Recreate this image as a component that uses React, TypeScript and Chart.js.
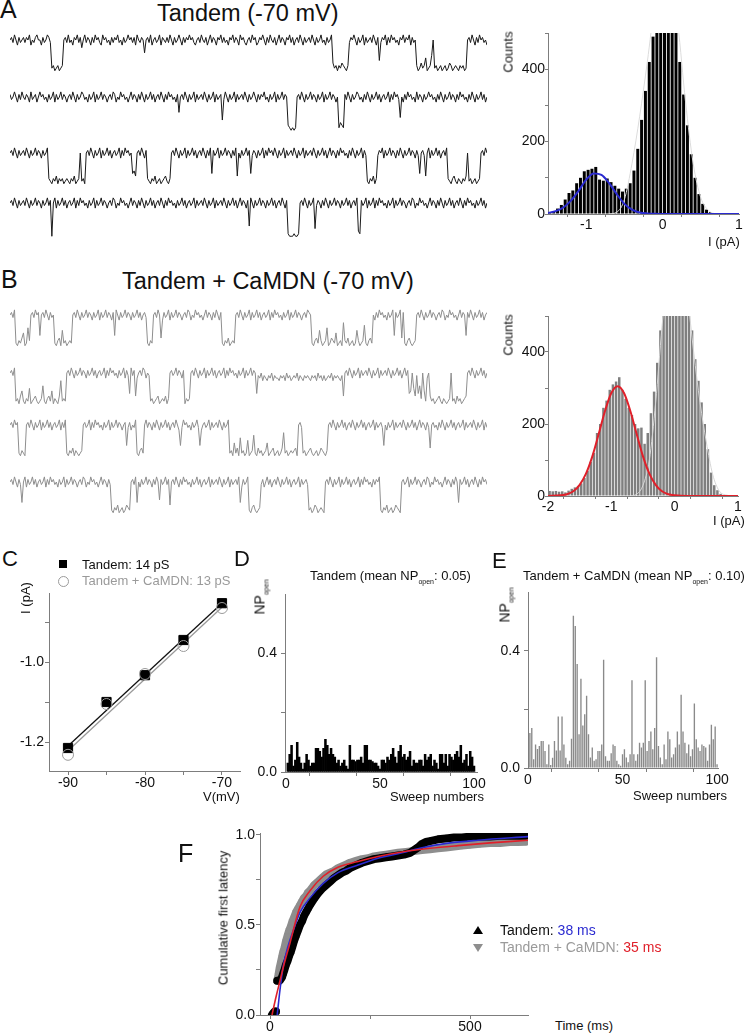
import React, { useEffect, useRef } from "react";
import { Chart, registerables } from "chart.js";

Chart.register(...registerables);

const FONT = "'Liberation Sans', Arial, Helvetica, sans-serif";

// ---------------- DATA ----------------
// Single-channel traces: one hex digit per sample, current (pA) = TRACE_ZERO_PA - digit * TRACE_STEP_PA
const TRACE_ZERO_PA = 0.16;
const TRACE_STEP_PA = 0.08;

const TRACE_A1 = ["2130241321","3120423102","24132013dc","edcedc2130","3241203152","0312413021","3402132413","1203241320","2131402312","7213042132","0412313024","1320241312","0213421302","3142031241","2031324120","3124021342","1302143120","2413023142","0312412031","4213024132","1302413203","241320bdce","cdbcdec312","0241320413","2130241a31","2041302132","4120312041","32cedbdc9e","dc82dcedce","dcedbcedcd","ecdced2130","2413021324"].join("");
const TRACE_A2 = ["1320241302","3124032142","0213241320","4132031242","1302413201","3241320413","2031242130","1423021324","2031241302","4132031421","3024130213","2418213024","1320413213","0241320413","21b3024132","0413213024","1320241312","0324132041","320312defe","fe21302413","2031241320","4132031242","ecde130241","3201324130","2413203142","1320413021","3a24130213","2403124132","0213241302","4132031241","3021324130","2413203142"].join("");
const TRACE_A3 = ["2130241321","3024132031","241320cdec","dbecdcedcd","ecdbedc2dc","e213024132","0413203142","1320413021","32a9b21302","41cdecdbed","cedcbdec21","3024132041","3203142130","24130a1320","4132031241","30b2413203","1a31241320","4130213024","1320413213","0241320413","2130241320","3142031241","3021324130","241320413d","ecdbec3120","4132031241","3024132031","2413a213b2","0413203142","130cdecbde","cdecdb2dce","dcedc21302"].join("");
const TRACE_A4 = ["2130241321","3024132031","24132031f2","0413203142","1320413021","3241320413","2031242130","1423021324","2031241302","4132031421","3024130213","2413203142","1320413213","0241320413","2130241320","3142031241","b024132031","2413203142","130241efff","effe213024","1320c31241","3024132031","2413203142","130de13204","1320413021","3241320413","2031242130","1423021324","2031241302","4132031421","3024130213","2413203142"].join("");

const TRACE_B1 = ["2130decdb9","ed7c213021","a213024132","decbe8dced","cd21302413","2031241320","4132031241","a024132031","2413203142","13decd2130","2b41320413","2031242130","1423021324","2031241302","41decdbedc","d213024132","0413203142","1320413021","3241320413","2031242130","12decbd8ce","dc7edbcd9e","dce5cdbedc","ed8cedc6de","cbd2413021","3241320a13","20b1decbde","dc21302413","2031242130","1423021324","20312a1302","4132031421"].join("");
const TRACE_B2 = ["2130dceb9d","ecd8edcbde","dc7decbd9e","cdeb5dcd21","3024132031","2413203142","1320413021","3241320413","a031b42130","1423dcedcb","edcdbec213","2031241ecd","c213024132","0413203142","1320413021","3241320413","20312a3425","3453425344","5343524354","3425345343","4534352435","3543425343","453b213024","1320413213","0241320413","2130241320","3142031a92","8b3a7c29d4","2bdcedcbde","cdedc2dceb","dcedcb2130","2413203142"].join("");
const TRACE_B3 = ["213021decd","e213024132","0413203142","13204130de","cdbecdedc2","1320413021","3241320413","20312421a3","14230decbd","2031241302","4132031421","3024a30213","2413203a42","1320413213","0241320dce","9dbe7dced8","edc6debdce","dc9edcbedc","edb5dcedcd","cbe213dced","cbdedcedbc","dec2130241","3203142130","2413203142","1320413213","a241320413","2130241320","3142031241","3b21324130","2413203142","1320413213","0241320413"].join("");
const TRACE_B4 = ["21302413a2","0413203142","1320413021","3241320413","2031242130","1423021324","20312413de","cdbedcedbc","d2130a2413","2031241302","9132031b21","3024130213","2413203142","1320413213","0241320413","2130a41320","decbdedc31","4203142130","2413203142","1320413213","dcedbcedcd","e213024132","0413203142","1320413021","32413120de","cdbedcedbc","de21320413","2031242130","1423021324","2031241302","a132031421","3024130213"].join("");

// Amplitude histograms (bin width 0.05 pA)
const HIST_BIN_WIDTH = 0.05;
const HIST_A_BIN_START = -1.5;
const HIST_A_COUNTS = [3,8,15,25,40,58,65,85,100,118,122,125,130,95,92,98,88,78,70,62,70,85,120,180,260,340,420,490,560,640,660,640,600,540,420,330,245,165,100,55,28,12,5,2,1,0,0,0,0,0];
const HIST_A_OPEN_FIT_X = [-1.5,-1.4,-1.3,-1.2,-1.1,-1.0,-0.9,-0.8,-0.7,-0.6,-0.5,-0.4,-0.3,-0.2,-0.1,0,0.5,1.0];
const HIST_A_OPEN_FIT_Y = [3,8,18,37,64,95,112,108,85,55,28,12,4,1.5,0.5,0,0,0];
const HIST_A_CLOSED_FIT_X = [-0.7,-0.6,-0.5,-0.4,-0.3,-0.2,-0.1,0,0.1,0.2,0.3,0.4,0.5,0.6,0.7,1.0];
const HIST_A_CLOSED_FIT_Y = [0,5,40,140,270,420,580,660,630,520,310,140,45,10,1,0];

const HIST_B_BIN_START = -2.0;
const HIST_B_COUNTS = [14,13,14,12,13,10,15,20,24,28,35,50,70,95,120,175,200,245,265,295,310,318,330,295,270,245,225,200,188,190,145,175,230,290,370,460,540,620,690,730,740,720,680,610,530,460,380,320,260,200,130,65,30,16,6,2,0,0,0,0];
const HIST_B_OPEN_FIT_X = [-2,-1.8,-1.7,-1.6,-1.5,-1.4,-1.3,-1.2,-1.1,-1.0,-0.9,-0.8,-0.7,-0.6,-0.5,-0.4,-0.3,-0.2,-0.1,0,0.2,0.5,1.0];
const HIST_B_OPEN_FIT_Y = [0,2,5,13,31,62,110,172,236,286,305,286,236,172,110,62,31,13,5,2,0,0,0];
const HIST_B_CLOSED_FIT_X = [-0.7,-0.6,-0.5,-0.4,-0.3,-0.2,-0.1,0,0.1,0.2,0.3,0.4,0.5,0.6,0.7,0.8,1.0];
const HIST_B_CLOSED_FIT_Y = [0,5,30,100,260,470,650,740,700,560,400,260,150,60,15,3,0];

// I-V relation (panel C)
const IV_VOLTAGES = [-90, -85, -80, -75, -70];
const IV_TANDEM = [-1.215, -1.100, -1.033, -0.945, -0.853];
const IV_CAMDN = [-1.232, -1.105, -1.030, -0.960, -0.865];
const IV_FIT_V = [-90, -70];
const IV_TANDEM_FIT = [-1.210, -0.853];
const IV_CAMDN_FIT = [-1.222, -0.863];

// NPopen per sweep (panels D, E)
const SWEEPS = Array.from({ length: 100 }, (_, i) => i + 1);
const NP_TANDEM = [0.03,0.06,0.09,0.02,0.04,0.10,0.05,0.03,0.01,0.03,
  0.06,0.04,0.02,0.03,0.03,0.08,0.08,0.07,0.05,0.08,
  0.11,0.09,0.06,0.08,0.06,0.05,0.03,0.04,0.02,0.03,
  0.04,0.02,0.01,0.09,0.04,0.04,0.035,0.04,0.04,0.05,
  0.03,0.09,0.09,0.04,0.04,0.035,0.03,0.03,0.02,0.01,
  0.04,0.04,0.03,0.05,0.04,0.06,0.08,0.05,0.03,0.07,
  0.09,0.05,0.06,0.04,0.05,0.07,0.02,0.04,0.03,0.03,
  0.04,0.04,0.02,0.06,0.04,0.05,0.06,0.02,0.04,0.03,
  0.01,0.06,0.06,0.03,0.06,0.02,0.06,0.05,0.04,0.06,
  0.07,0.05,0.09,0.03,0.04,0.06,0.02,0.07,0.05,0.02];
const NP_CAMDN = [0.12,0.137,0.03,0.08,0.065,0.075,0.092,0.092,0.058,0.013,
  0.08,0.01,0.035,0.092,0.06,0.176,0.06,0.176,0.08,0.035,
  0.013,0.025,0.10,0.52,0.485,0.355,0.115,0.305,0.145,0.184,
  0.247,0.115,0.036,0.07,0.025,0.03,0.058,0.058,0.08,0.37,
  0.04,0.025,0.025,0.05,0.08,0.075,0.025,0.013,0.008,0.047,
  0.064,0.036,0.02,0.047,0.30,0.047,0.025,0.047,0.086,0.07,
  0.086,0.30,0.058,0.092,0.125,0.064,0.137,0.378,0.075,0.036,
  0.013,0.08,0.03,0.125,0.098,0.036,0.047,0.07,0.125,0.08,
  0.25,0.125,0.086,0.05,0.08,0.04,0.064,0.22,0.098,0.07,
  0.058,0.08,0.075,0.07,0.025,0.08,0.148,0.098,0.142,0.013];

// Cumulative first latency (panel F)
const LAT_TANDEM_T = [5,8,12,15,18,21,24,27,30,33,36,40,44,48,52,56,60,65,70,75,80,85,90,95,100,110,120,130,140,150,160,170,180,190,200,215,230,245,260,275,290,305,320,335,350,360,370,380,390,400,420,440,460,480,500,525,550,575,600,620,640];
const LAT_TANDEM_V = [0.0,0.01,0.02,0.02,0.19,0.19,0.19,0.20,0.21,0.23,0.25,0.28,0.30,0.33,0.35,0.38,0.41,0.44,0.47,0.50,0.52,0.55,0.57,0.59,0.61,0.645,0.675,0.70,0.72,0.74,0.76,0.775,0.79,0.80,0.815,0.83,0.845,0.855,0.865,0.87,0.875,0.88,0.885,0.89,0.90,0.915,0.93,0.95,0.96,0.965,0.975,0.98,0.985,0.985,0.99,0.99,0.99,0.995,0.995,0.995,0.995];
const LAT_CAMDN_T = [5,8,12,15,18,21,24,27,30,33,36,40,44,48,52,56,60,65,70,75,80,85,90,95,100,110,120,130,140,150,160,170,180,190,200,215,230,245,260,275,290,305,320,340,360,380,400,420,440,460,480,500,525,550,575,600,620,640];
const LAT_CAMDN_V = [0.0,0.01,0.02,0.02,0.19,0.22,0.26,0.29,0.32,0.35,0.37,0.41,0.44,0.47,0.49,0.52,0.54,0.57,0.59,0.61,0.63,0.65,0.66,0.68,0.69,0.72,0.74,0.76,0.78,0.79,0.80,0.815,0.825,0.835,0.845,0.855,0.865,0.87,0.88,0.885,0.89,0.895,0.90,0.905,0.91,0.915,0.92,0.925,0.93,0.935,0.94,0.945,0.95,0.955,0.955,0.96,0.96,0.962];
const FIT_TANDEM_T = [18,25,33,45,60,75,100,133,170,217,270,330,383,450,520,645];
const FIT_TANDEM_V = [0.0,0.14,0.27,0.38,0.48,0.57,0.65,0.73,0.79,0.83,0.87,0.90,0.93,0.955,0.97,0.99];
const FIT_CAMDN_T = [5,15,25,35,50,75,100,133,170,217,270,330,400,470,550,645];
const FIT_CAMDN_V = [0.0,0.10,0.19,0.28,0.40,0.60,0.69,0.77,0.82,0.85,0.88,0.905,0.925,0.94,0.955,0.97];

// ---------------- STYLE / LAYOUT ----------------
const AXIS_COLOR = "#7d7d7d";
const TICK_COLOR = "#111";
const GRAY = "#8e8e8e";
const BLUE = "#2a2ad0";
const RED = "#e0202a";
const PX_PER_PA = 32;

type Area = { l: number; t: number; r: number; b: number };
type Frame = { area: Area; yW: number; xH: number; padT: number; padR: number };
type Box = { left: number; top: number; width: number; height: number };

function frameBox(f: Frame): Box {
  return {
    left: f.area.l - f.yW,
    top: f.area.t - f.padT,
    width: f.area.r - f.area.l + f.yW + f.padR,
    height: f.area.b - f.area.t + f.padT + f.xH,
  };
}

const zip = (xs: number[], ys: number[]) => xs.map((x, i) => ({ x, y: ys[i] }));
const decode = (s: string) => s.split("").map((ch) => TRACE_ZERO_PA - parseInt(ch, 16) * TRACE_STEP_PA);
const lab = (shown: number[], digits: number) => (v: number) =>
  shown.some((s) => Math.abs(s - v) < 1e-9) ? Number(v).toFixed(digits) : "";

function baseOptions(padT: number, padR: number) {
  return {
    responsive: false,
    maintainAspectRatio: false,
    animation: false,
    events: [],
    layout: { padding: { top: padT, right: padR, left: 0, bottom: 0 } },
    plugins: { legend: { display: false }, tooltip: { enabled: false } },
  };
}

function axisOpts(o: {
  min: number; max: number; ticks: number[]; labels: (v: number) => string;
  size: number; isX: boolean; tickLen?: number; pad?: number;
}) {
  return {
    type: "linear",
    min: o.min,
    max: o.max,
    offset: false,
    afterBuildTicks: (s: any) => { s.ticks = o.ticks.map((v) => ({ value: v })); },
    afterFit: (s: any) => { if (o.isX) s.height = o.size; else s.width = o.size; },
    grid: { display: true, drawOnChartArea: false, drawTicks: true, tickLength: o.tickLen ?? 4, color: AXIS_COLOR, lineWidth: 1 },
    border: { display: true, color: AXIS_COLOR, width: 1 },
    ticks: {
      autoSkip: false, maxRotation: 0, minRotation: 0, padding: o.pad ?? 1,
      color: TICK_COLOR, font: { family: FONT, size: 14 },
      callback: (v: any) => o.labels(Number(v)),
    },
  };
}

function ChartCanvas({ box, make }: { box: Box; make: () => any }) {
  const ref = useRef<HTMLCanvasElement>(null);
  useEffect(() => {
    const chart = new Chart(ref.current as HTMLCanvasElement, make());
    return () => chart.destroy();
  }, []);
  return (
    <canvas
      ref={ref}
      width={box.width}
      height={box.height}
      style={{ position: "absolute", left: box.left, top: box.top, width: box.width, height: box.height }}
    />
  );
}

// ---------- chart builders ----------
function traceMake(code: string, color: string) {
  return () => {
    const samples = decode(code);
    return {
      type: "line",
      data: {
        datasets: [{
          data: samples.map((y, i) => ({ x: i, y })),
          borderColor: color, borderWidth: 1, pointRadius: 0, tension: 0, fill: false,
        }],
      },
      options: {
        ...baseOptions(0, 0),
        scales: {
          x: { type: "linear", display: false, min: 0, max: samples.length - 1 },
          y: { type: "linear", display: false, min: -44 / PX_PER_PA, max: 18 / PX_PER_PA },
        },
      },
    };
  };
}

function histMake(f: Frame, p: {
  binStart: number; counts: number[]; barColor: string;
  openX: number[]; openY: number[]; openColor: string;
  closedX: number[]; closedY: number[]; closedColor: string;
  xMin: number; xMax: number; xTicks: number[]; xLabels: number[];
}) {
  return () => ({
    type: "bar",
    data: {
      datasets: [
        {
          type: "line", data: zip(p.openX, p.openY), borderColor: p.openColor, borderWidth: 2,
          pointRadius: 0, cubicInterpolationMode: "monotone", order: 1,
        },
        {
          type: "line", data: zip(p.closedX, p.closedY), borderColor: p.closedColor, borderWidth: 1,
          pointRadius: 0, cubicInterpolationMode: "monotone", order: 2,
        },
        {
          type: "bar",
          data: p.counts.map((c, i) => ({ x: p.binStart + (i + 0.5) * HIST_BIN_WIDTH, y: c })),
          backgroundColor: p.barColor, borderWidth: 0, barPercentage: 0.78, categoryPercentage: 1, order: 3,
        },
      ],
    },
    options: {
      ...baseOptions(f.padT, f.padR),
      scales: {
        x: axisOpts({ min: p.xMin, max: p.xMax, ticks: p.xTicks, labels: lab(p.xLabels, 0), size: f.xH, isX: true, tickLen: 3, pad: 0 }),
        y: axisOpts({ min: 0, max: 500, ticks: [0, 100, 200, 300, 400, 500], labels: lab([0, 200, 400], 0), size: f.yW, isX: false, tickLen: 3, pad: 0 }),
      },
    },
  });
}

const FRAME_HIST_A: Frame = { area: { l: 548, t: 33, r: 739, b: 214 }, yW: 48, xH: 22, padT: 10, padR: 6 };
const FRAME_HIST_B: Frame = { area: { l: 548, t: 316, r: 738, b: 496 }, yW: 48, xH: 22, padT: 10, padR: 7 };
const FRAME_C: Frame = { area: { l: 49, t: 593, r: 240, b: 771 }, yW: 45, xH: 22, padT: 10, padR: 14 };
const FRAME_D: Frame = { area: { l: 285, t: 592, r: 477, b: 772 }, yW: 40, xH: 22, padT: 10, padR: 14 };
const FRAME_E: Frame = { area: { l: 528, t: 590, r: 718, b: 768 }, yW: 40, xH: 22, padT: 10, padR: 12 };
const FRAME_F: Frame = { area: { l: 260, t: 833, r: 528, b: 1015 }, yW: 40, xH: 22, padT: 10, padR: 14 };

const makeC = () => ({
  type: "scatter",
  data: {
    datasets: [
      { data: zip(IV_FIT_V, IV_TANDEM_FIT), showLine: true, borderColor: "#111", borderWidth: 1.3, pointRadius: 0, order: 4 },
      { data: zip(IV_FIT_V, IV_CAMDN_FIT), showLine: true, borderColor: "#9a9a9a", borderWidth: 1.3, pointRadius: 0, order: 3 },
      { data: zip(IV_VOLTAGES, IV_TANDEM), pointStyle: "rect", pointRadius: 6.5, backgroundColor: "#000", borderColor: "#000", order: 2 },
      { data: zip(IV_VOLTAGES, IV_CAMDN), pointStyle: "circle", pointRadius: 5.5, backgroundColor: "rgba(255,255,255,0)", borderColor: "#9a9a9a", borderWidth: 1, order: 1 },
    ],
  },
  options: {
    ...baseOptions(FRAME_C.padT, FRAME_C.padR),
    scales: {
      x: axisOpts({ min: -92.47, max: -67.66, ticks: [-90, -85, -80, -75, -70], labels: lab([-90, -80, -70], 0), size: FRAME_C.xH, isX: true, pad: 0 }),
      y: axisOpts({ min: -1.2725, max: -0.8275, ticks: [-1.2, -1.1, -1.0, -0.9], labels: lab([-1.2, -1.0], 1), size: FRAME_C.yW, isX: false, pad: 1 }),
    },
  },
});

function npMake(f: Frame, values: number[], color: string, barPct: number, xMin: number, xMax: number) {
  return () => ({
    type: "bar",
    data: {
      datasets: [{
        data: zip(SWEEPS, values), backgroundColor: color, borderWidth: 0,
        barPercentage: barPct, categoryPercentage: 1,
      }],
    },
    options: {
      ...baseOptions(f.padT, f.padR),
      scales: {
        x: axisOpts({ min: xMin, max: xMax, ticks: [0, 25, 50, 75, 100], labels: lab([0, 50, 100], 0), size: f.xH, isX: true, pad: 0 }),
        y: axisOpts({ min: 0, max: 0.6, ticks: [0, 0.2, 0.4], labels: lab([0, 0.4], 1), size: f.yW, isX: false, pad: 4 }),
      },
    },
  });
}

const jumpHide = {
  borderColor: (ctx: any) => (Math.abs(ctx.p1.parsed.y - ctx.p0.parsed.y) > 0.1 ? "rgba(0,0,0,0)" : undefined),
};

const makeF = () => ({
  type: "line",
  data: {
    datasets: [
      { data: zip(FIT_CAMDN_T, FIT_CAMDN_V), borderColor: RED, borderWidth: 1.6, pointRadius: 0, cubicInterpolationMode: "monotone", order: 0 },
      { data: zip(FIT_TANDEM_T, FIT_TANDEM_V), borderColor: BLUE, borderWidth: 1.6, pointRadius: 0, cubicInterpolationMode: "monotone", order: 1 },
      {
        data: zip(LAT_TANDEM_T, LAT_TANDEM_V), borderColor: "#000", borderWidth: 8, borderJoinStyle: "round", borderCapStyle: "round",
        pointStyle: "triangle", pointRadius: 3.5, pointBorderWidth: 1, pointBackgroundColor: "#000", pointBorderColor: "#000",
        segment: jumpHide, order: 2,
      },
      {
        data: zip(LAT_CAMDN_T, LAT_CAMDN_V), borderColor: GRAY, borderWidth: 8, borderJoinStyle: "round", borderCapStyle: "round",
        pointStyle: "triangle", pointRotation: 180, pointRadius: 3.5, pointBorderWidth: 1, pointBackgroundColor: GRAY, pointBorderColor: GRAY,
        segment: jumpHide, order: 3,
      },
    ],
  },
  options: {
    ...baseOptions(FRAME_F.padT, FRAME_F.padR),
    scales: {
      x: axisOpts({ min: -25, max: 645, ticks: [0, 250, 500], labels: lab([0, 500], 0), size: FRAME_F.xH, isX: true, pad: 0 }),
      y: axisOpts({ min: 0, max: 1.01, ticks: [0, 0.25, 0.5, 0.75, 1.0], labels: lab([0, 0.5, 1.0], 1), size: FRAME_F.yW, isX: false, pad: 1 }),
    },
  },
});

// ---------- text helpers ----------
function Txt({ x, baseline, fs, color = "#111", children }: { x: number; baseline: number; fs: number; color?: string; children: any }) {
  return (
    <div style={{ position: "absolute", left: x, top: baseline - 0.8465 * fs, fontSize: fs, lineHeight: `${fs}px`, fontFamily: FONT, color, whiteSpace: "nowrap" }}>
      {children}
    </div>
  );
}

function VTxt({ cx, cy, fs, children }: { cx: number; cy: number; fs: number; children: any }) {
  return (
    <div style={{ position: "absolute", left: cx, top: cy, transform: "translate(-50%,-50%) rotate(-90deg)", fontSize: fs, lineHeight: `${fs}px`, fontFamily: FONT, color: "#111", whiteSpace: "nowrap" }}>
      {children}
    </div>
  );
}

const Sub = ({ children }: { children: any }) => (
  <span style={{ fontSize: 7, position: "relative", top: 4 }}>{children}</span>
);

const TRACE_LEFT = 10;
const TRACE_WIDTH = 477;
const TRACE_ROWS: { code: string; base: number; color: string }[] = [
  { code: TRACE_A1, base: 40, color: "#1a1a1a" },
  { code: TRACE_A2, base: 97, color: "#1a1a1a" },
  { code: TRACE_A3, base: 153, color: "#1a1a1a" },
  { code: TRACE_A4, base: 203, color: "#1a1a1a" },
  { code: TRACE_B1, base: 315, color: GRAY },
  { code: TRACE_B2, base: 373, color: GRAY },
  { code: TRACE_B3, base: 425, color: GRAY },
  { code: TRACE_B4, base: 482, color: GRAY },
];

export default function App() {
  useEffect(() => {
    document.body.style.margin = "0";
    document.documentElement.style.overflow = "hidden";
  }, []);

  return (
    <div style={{ position: "absolute", left: 0, top: 0, width: 745, height: 1034, overflow: "hidden", background: "#fff", fontFamily: FONT, color: "#111" }}>
      {/* Panel A */}
      <Txt x={0} baseline={18} fs={25}>A</Txt>
      <Txt x={157} baseline={22} fs={23.5}>Tandem (-70 mV)</Txt>
      {TRACE_ROWS.map((r, i) => (
        <ChartCanvas key={i} box={{ left: TRACE_LEFT, top: r.base - 18, width: TRACE_WIDTH, height: 62 }} make={traceMake(r.code, r.color)} />
      ))}
      <ChartCanvas
        box={frameBox(FRAME_HIST_A)}
        make={histMake(FRAME_HIST_A, {
          binStart: HIST_A_BIN_START, counts: HIST_A_COUNTS, barColor: "#000",
          openX: HIST_A_OPEN_FIT_X, openY: HIST_A_OPEN_FIT_Y, openColor: BLUE,
          closedX: HIST_A_CLOSED_FIT_X, closedY: HIST_A_CLOSED_FIT_Y, closedColor: "#dcdcdc",
          xMin: -1.5, xMax: 1, xTicks: [-1, -0.5, 0, 0.5, 1], xLabels: [-1, 0, 1],
        })}
      />
      <VTxt cx={508} cy={52} fs={13}>Counts</VTxt>
      <Txt x={708} baseline={246} fs={13}>I (pA)</Txt>

      {/* Panel B */}
      <Txt x={1} baseline={288} fs={25}>B</Txt>
      <Txt x={122} baseline={290} fs={23.5}>Tandem + CaMDN (-70 mV)</Txt>
      <ChartCanvas
        box={frameBox(FRAME_HIST_B)}
        make={histMake(FRAME_HIST_B, {
          binStart: HIST_B_BIN_START, counts: HIST_B_COUNTS, barColor: "#7f7f7f",
          openX: HIST_B_OPEN_FIT_X, openY: HIST_B_OPEN_FIT_Y, openColor: RED,
          closedX: HIST_B_CLOSED_FIT_X, closedY: HIST_B_CLOSED_FIT_Y, closedColor: "#d6d6d6",
          xMin: -2, xMax: 1, xTicks: [-2, -1.5, -1, -0.5, 0, 0.5, 1], xLabels: [-2, -1, 0, 1],
        })}
      />
      <VTxt cx={508} cy={335} fs={13}>Counts</VTxt>
      <Txt x={713} baseline={525} fs={13}>I (pA)</Txt>

      {/* Panel C */}
      <Txt x={2} baseline={567} fs={22}>C</Txt>
      <ChartCanvas box={frameBox(FRAME_C)} make={makeC} />
      <div style={{ position: "absolute", left: 59, top: 560, width: 8, height: 8, background: "#000" }} />
      <Txt x={82} baseline={569} fs={13}>Tandem: 14 pS</Txt>
      <div style={{ position: "absolute", left: 58, top: 576, width: 9, height: 9, border: "1px solid #9a9a9a", borderRadius: "50%" }} />
      <Txt x={82} baseline={585} fs={13} color="#9a9a9a">Tandem + CaMDN: 13 pS</Txt>
      <VTxt cx={25} cy={598} fs={13}>I (pA)</VTxt>
      <Txt x={203} baseline={801} fs={13}>V(mV)</Txt>

      {/* Panel D */}
      <Txt x={234} baseline={567} fs={22}>D</Txt>
      <Txt x={310} baseline={580} fs={13}>Tandem (mean NP<Sub>open</Sub>: 0.05)</Txt>
      <ChartCanvas box={frameBox(FRAME_D)} make={npMake(FRAME_D, NP_TANDEM, "#000", 1, -0.5, 101.6)} />
      <VTxt cx={261} cy={597} fs={14}>NP<Sub>open</Sub></VTxt>
      <Txt x={390} baseline={801} fs={13}>Sweep numbers</Txt>

      {/* Panel E */}
      <Txt x={492} baseline={569} fs={22}>E</Txt>
      <Txt x={523} baseline={580} fs={13}>Tandem + CaMDN (mean NP<Sub>open</Sub>: 0.10)</Txt>
      <ChartCanvas box={frameBox(FRAME_E)} make={npMake(FRAME_E, NP_CAMDN, "#8a8a8a", 0.72, 0, 100.5)} />
      <VTxt cx={506} cy={605} fs={14}>NP<Sub>open</Sub></VTxt>
      <Txt x={633} baseline={800} fs={13}>Sweep numbers</Txt>

      {/* Panel F */}
      <Txt x={178} baseline={862} fs={25}>F</Txt>
      <ChartCanvas box={frameBox(FRAME_F)} make={makeF} />
      <VTxt cx={223} cy={918} fs={13}>Cumulative first latency</VTxt>
      <Txt x={555} baseline={1030} fs={13}>Time (ms)</Txt>
      <div style={{ position: "absolute", left: 473, top: 926, width: 0, height: 0, borderLeft: "5px solid transparent", borderRight: "5px solid transparent", borderBottom: "8px solid #000" }} />
      <Txt x={500} baseline={935} fs={14}>Tandem: <span style={{ color: BLUE }}>38 ms</span></Txt>
      <div style={{ position: "absolute", left: 473, top: 944, width: 0, height: 0, borderLeft: "5px solid transparent", borderRight: "5px solid transparent", borderTop: "8px solid " + GRAY }} />
      <Txt x={500} baseline={952} fs={14} color="#9a9a9a">Tandem + CaMDN: <span style={{ color: RED }}>35 ms</span></Txt>
    </div>
  );
}
